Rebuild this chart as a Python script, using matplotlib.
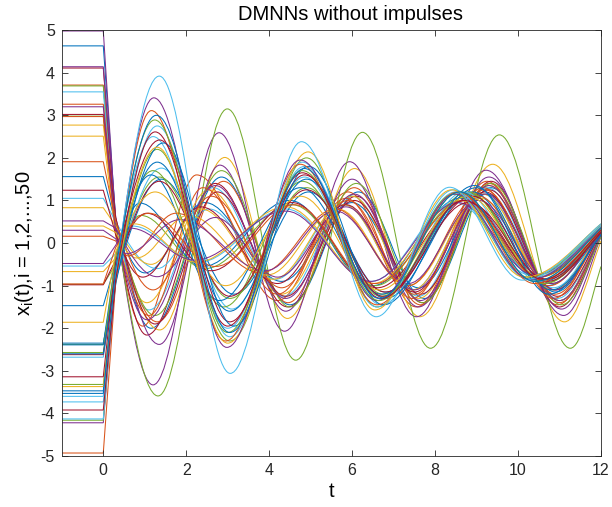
import matplotlib
matplotlib.use("Agg")
import matplotlib.pyplot as plt
from matplotlib.path import Path
from matplotlib.patches import PathPatch

# ------------------------------------------------------------
# data
# each line: (history value on [-1,0], value after the fast drop,
#             extrema [(t, x), ...], value at t = 12)
# ------------------------------------------------------------
t_start = -1.0
t_drop = 0.3
t_end = 12.0

blue_lines = [
    (4.63, 0.55, [(1.15, -2.00), (2.85, 1.55), (4.50, -1.45), (6.15, 1.20), (7.75, -1.30), (9.35, 1.30), (11.00, -1.35)], 0.25),
    (1.56, 0.45, [(1.00, -0.70), (2.45, 0.95), (4.30, -0.90), (6.00, 0.95), (7.60, -1.05), (9.25, 1.15), (10.90, -1.15)], 0.30),
    (-1.47, -0.45, [(0.88, 0.94), (2.40, -0.55), (4.50, 1.00), (6.50, -1.00), (8.60, 1.05), (10.45, -0.80)], 0.35),
    (-2.35, -0.85, [(1.40, 1.50), (3.15, -1.20), (4.95, 1.20), (6.80, -1.15), (8.85, 1.15), (10.60, -0.90)], 0.30),
    (-2.39, -0.35, [(1.15, 1.60), (2.80, -1.35), (4.75, 1.30), (6.70, -1.20), (8.90, 1.20), (10.70, -1.00)], 0.25),
    (-2.60, -0.70, [(1.30, 1.90), (3.05, -1.60), (4.90, 1.50), (6.80, -1.30), (9.00, 1.30), (10.80, -1.10)], 0.20),
    (-3.47, -0.95, [(1.45, 2.35), (3.15, -1.95), (4.95, 1.80), (6.75, -1.45), (8.95, 1.35), (10.75, -1.20)], 0.20),
    (-3.53, -0.60, [(1.28, 3.00), (3.05, -2.10), (4.85, 1.75), (6.65, -1.30), (8.60, 1.20), (10.40, -0.90)], 0.35),
]

orange_lines = [
    (3.71, 0.30, [(0.95, -1.95), (2.25, 1.60), (4.20, -1.35), (5.90, 1.20), (7.55, -1.50), (9.25, 1.45), (10.95, -1.45)], 0.30),
    (3.26, 0.55, [(1.30, -1.85), (2.90, 1.45), (4.45, -1.40), (6.05, 1.30), (7.65, -1.45), (9.30, 1.40), (11.00, -1.40)], 0.20),
    (2.97, 0.20, [(1.10, -1.70), (2.40, 1.30), (4.20, -1.20), (5.85, 1.05), (7.45, -1.30), (9.15, 1.30), (10.85, -1.30)], 0.35),
    (1.91, 0.50, [(1.20, -1.10), (2.60, 1.10), (4.30, -1.05), (5.90, 1.00), (7.50, -1.20), (9.20, 1.25), (10.90, -1.20)], 0.30),
    (0.16, 0.05, [(0.60, -0.30), (1.75, 0.70), (3.80, -0.70), (5.60, 0.80), (7.35, -1.00), (9.05, 1.10), (10.75, -1.00)], 0.40),
    (-0.96, -0.10, [(1.10, 0.70), (2.70, -0.55), (4.60, 0.90), (6.55, -0.95), (8.70, 1.00), (10.50, -0.80)], 0.35),
    (-4.93, -0.90, [(1.16, 3.11), (2.95, -2.30), (4.75, 1.85), (6.60, -1.45), (8.55, 1.20), (10.40, -0.95)], 0.30),
]

yellow_lines = [
    (2.77, 0.35, [(1.36, -2.04), (2.93, 2.01), (4.44, -1.77), (6.06, 1.75), (7.63, -1.73), (9.39, 1.85), (11.12, -1.85)], 0.05),
    (2.51, 0.15, [(1.05, -1.40), (2.55, 1.25), (4.30, -1.20), (6.00, 1.10), (7.60, -1.30), (9.30, 1.35), (11.00, -1.35)], 0.25),
    (0.83, 0.40, [(1.15, -0.50), (2.35, 0.80), (4.10, -0.85), (5.80, 0.90), (7.45, -1.10), (9.15, 1.15), (10.85, -1.10)], 0.35),
    (0.40, 0.25, [(0.80, -0.35), (2.05, 0.65), (3.95, -0.75), (5.65, 0.80), (7.35, -1.00), (9.10, 1.05), (10.80, -0.95)], 0.40),
    (-0.67, -0.35, [(0.75, 0.45), (2.25, -0.45), (4.40, 0.85), (6.50, -0.95), (8.60, 1.00), (10.45, -0.75)], 0.40),
    (-1.86, -0.20, [(1.25, 1.20), (2.95, -1.00), (4.75, 1.10), (6.65, -1.10), (8.80, 1.10), (10.60, -0.85)], 0.30),
    (-3.37, -0.80, [(1.30, 2.25), (3.00, -2.35), (4.94, 2.14), (6.55, -1.57), (8.40, 1.25), (10.15, -0.80)], 0.45),
]

purple_lines = [
    (4.98, 0.45, [(1.20, -3.33), (2.79, 2.59), (4.37, -2.07), (5.94, 1.91), (7.55, -1.73), (9.23, 1.71), (11.10, -1.70)], 0.15),
    (4.14, 0.60, [(1.35, -2.38), (2.81, 1.83), (4.40, -1.60), (6.00, 1.50), (7.60, -1.50), (9.30, 1.55), (11.05, -1.55)], 0.20),
    (3.20, 0.25, [(1.05, -1.80), (2.70, 1.35), (4.40, -1.30), (6.05, 1.15), (7.65, -1.35), (9.30, 1.35), (11.00, -1.35)], 0.20),
    (0.52, 0.35, [(1.30, -0.79), (2.70, 0.60), (4.20, -0.80), (5.85, 0.85), (7.50, -1.10), (9.20, 1.15), (10.90, -1.10)], 0.30),
    (0.30, 0.10, [(0.55, -0.25), (1.85, 0.55), (3.90, -0.65), (5.60, 0.75), (7.35, -0.95), (9.05, 1.00), (10.80, -0.95)], 0.40),
    (-0.48, -0.05, [(0.65, 0.35), (2.20, -0.40), (4.40, 0.75), (6.45, -0.90), (8.55, 0.95), (10.40, -0.75)], 0.40),
    (-4.22, -0.75, [(1.22, 3.41), (2.98, -2.45), (4.75, 1.95), (6.60, -1.35), (8.50, 1.15), (10.30, -0.85)], 0.35),
]

green_lines = [
    (3.69, 0.40, [(1.32, -3.59), (2.99, 3.15), (4.64, -2.75), (6.25, 2.60), (7.89, -2.47), (9.55, 2.54), (11.26, -2.47)], -0.55),
    (2.98, 0.50, [(1.25, -1.70), (2.85, 1.70), (4.50, -1.50), (6.10, 1.40), (7.70, -1.40), (9.35, 1.40), (11.05, -1.45)], 0.15),
    (-0.97, -0.50, [(0.90, 0.65), (2.45, -0.60), (4.55, 0.90), (6.55, -1.00), (8.65, 1.00), (10.50, -0.80)], 0.35),
    (-2.38, -0.65, [(1.35, 1.55), (3.05, -1.30), (4.90, 1.30), (6.75, -1.20), (8.85, 1.15), (10.65, -0.95)], 0.30),
    (-2.57, -0.30, [(1.20, 1.70), (2.90, -1.50), (4.80, 1.45), (6.70, -1.25), (8.80, 1.20), (10.60, -0.95)], 0.30),
    (-3.32, -0.90, [(1.30, 2.20), (3.05, -2.30), (4.90, 2.00), (6.60, -1.50), (8.45, 1.15), (10.25, -0.80)], 0.40),
    (-4.16, -0.60, [(1.24, 2.89), (3.00, -2.10), (4.80, 1.70), (6.65, -1.35), (8.60, 1.20), (10.40, -0.90)], 0.35),
]

cyan_lines = [
    (3.55, 0.35, [(1.10, -1.57), (2.65, 1.30), (4.35, -1.25), (6.00, 1.10), (7.60, -1.25), (9.25, 1.30), (10.95, -1.30)], 0.25),
    (1.05, 0.50, [(1.30, -0.60), (2.55, 0.80), (4.15, -0.85), (5.80, 0.90), (7.45, -1.10), (9.15, 1.15), (10.85, -1.05)], 0.35),
    (-0.54, -0.25, [(0.70, 0.40), (2.30, -0.45), (4.40, 0.80), (6.45, -0.90), (8.50, 0.95), (10.30, -0.75)], 0.45),
    (-2.68, -0.85, [(1.40, 1.76), (3.10, -1.55), (4.85, 1.55), (6.60, -1.35), (8.50, 1.20), (10.30, -0.85)], 0.40),
    (-3.60, -0.50, [(1.20, 2.50), (3.00, -2.00), (4.85, 1.80), (6.70, -1.45), (8.70, 1.20), (10.50, -0.90)], 0.30),
    (-3.73, -0.95, [(1.30, 2.75), (3.05, -2.20), (4.80, 1.90), (6.60, -1.50), (8.45, 1.25), (10.25, -0.85)], 0.40),
    (-4.13, -0.70, [(1.35, 3.92), (3.06, -3.06), (4.78, 2.38), (6.58, -1.73), (8.35, 1.31), (10.10, -0.87)], 0.45),
]

red_lines = [
    (4.11, 0.40, [(1.05, -2.16), (2.70, 1.40), (4.45, -1.50), (6.10, 1.10), (7.70, -1.40), (9.35, 1.45), (11.00, -1.50)], 0.20),
    (3.02, 0.60, [(1.25, -1.90), (2.75, 1.20), (4.40, -1.25), (6.05, 1.00), (7.65, -1.20), (9.30, 1.25), (10.95, -1.25)], 0.25),
    (1.24, 0.20, [(0.95, -0.80), (2.35, 0.85), (4.20, -0.95), (5.85, 0.90), (7.50, -1.15), (9.20, 1.20), (10.90, -1.10)], 0.30),
    (-0.98, -0.40, [(1.05, 0.70), (2.60, -0.65), (4.55, 0.95), (6.60, -1.05), (8.75, 1.00), (10.60, -0.85)], 0.30),
    (-2.62, -0.75, [(1.35, 1.45), (3.05, -1.25), (4.90, 1.25), (6.80, -1.15), (8.90, 1.10), (10.70, -0.90)], 0.25),
    (-3.14, -0.45, [(1.36, 2.42), (3.05, -1.85), (4.85, 1.60), (6.75, -1.25), (8.80, 0.95), (10.70, -0.85)], 0.25),
    (-3.92, -0.85, [(1.25, 2.61), (3.00, -1.95), (4.80, 1.65), (6.70, -1.30), (8.70, 1.00), (10.60, -0.85)], 0.30),
]

# MATLAB default colour order
groups = [blue_lines, orange_lines, yellow_lines, purple_lines,
          green_lines, cyan_lines, red_lines]
colors = ['#0072BD', '#D95319', '#EDB120', '#7E2F8E',
          '#77AC30', '#4DBEEE', '#A2142F']

plt.rcParams['font.family'] = ['Liberation Sans', 'DejaVu Sans']
plt.rcParams['axes.unicode_minus'] = False
plt.rcParams['mathtext.fontset'] = 'custom'
plt.rcParams['mathtext.rm'] = 'Liberation Sans'
plt.rcParams['mathtext.it'] = 'Liberation Sans:italic'

A = 0.363  # bezier handle for a half cosine wave


def curve_path(x0, y_drop, extrema, y_end):
    verts = [(t_start, x0), (0.0, x0), (t_drop, y_drop)]
    codes = [Path.MOVETO, Path.LINETO, Path.LINETO]
    t1, y1 = extrema[0]
    d = t1 - t_drop
    verts += [(t_drop + d / 3, y_drop + 0.5 * (y1 - y_drop)), (t1 - A * d, y1), (t1, y1)]
    codes += [Path.CURVE4] * 3
    for (ta, ya), (tb, yb) in zip(extrema[:-1], extrema[1:]):
        d = tb - ta
        verts += [(ta + A * d, ya), (tb - A * d, yb), (tb, yb)]
        codes += [Path.CURVE4] * 3
    ta, ya = extrema[-1]
    d = t_end - ta
    verts += [(ta + A * d, ya), (t_end - d / 3, ya + 0.6 * (y_end - ya)), (t_end, y_end)]
    codes += [Path.CURVE4] * 3
    return Path(verts, codes)


fig = plt.figure(figsize=(6.12, 5.07), dpi=100)
ax = fig.add_axes([0.101, 0.1006, 0.881, 0.840])

# plot in the same interleaved order as the neuron index
n_max = max(len(g) for g in groups)
for k in range(n_max):
    for g, c in zip(groups, colors):
        if k < len(g):
            x0, yd, ext, ye = g[k]
            ax.add_patch(PathPatch(curve_path(x0, yd, ext, ye), fill=False,
                                   edgecolor=c, lw=0.75))

ax.set_xlim(-1, 12)
ax.set_ylim(-5, 5)
ax.set_xticks(range(0, 13, 2))
ax.set_yticks(range(-5, 6))
ax.tick_params(direction='in', top=True, right=True, length=4, width=0.6,
               labelsize=11.5, colors='0.15', pad=5)
for s in ax.spines.values():
    s.set_color('0.15')
    s.set_linewidth(0.6)

ax.set_title('DMNNs without impulses', fontsize=14.5, pad=7, x=0.535)
ax.set_xlabel('t', fontsize=14.5, labelpad=3)
ax.set_ylabel(r'x$_{\mathrm{i}}$(t),i = 1,2,...,50', fontsize=14.5, labelpad=3)

fig.savefig('out.png', dpi=100)
